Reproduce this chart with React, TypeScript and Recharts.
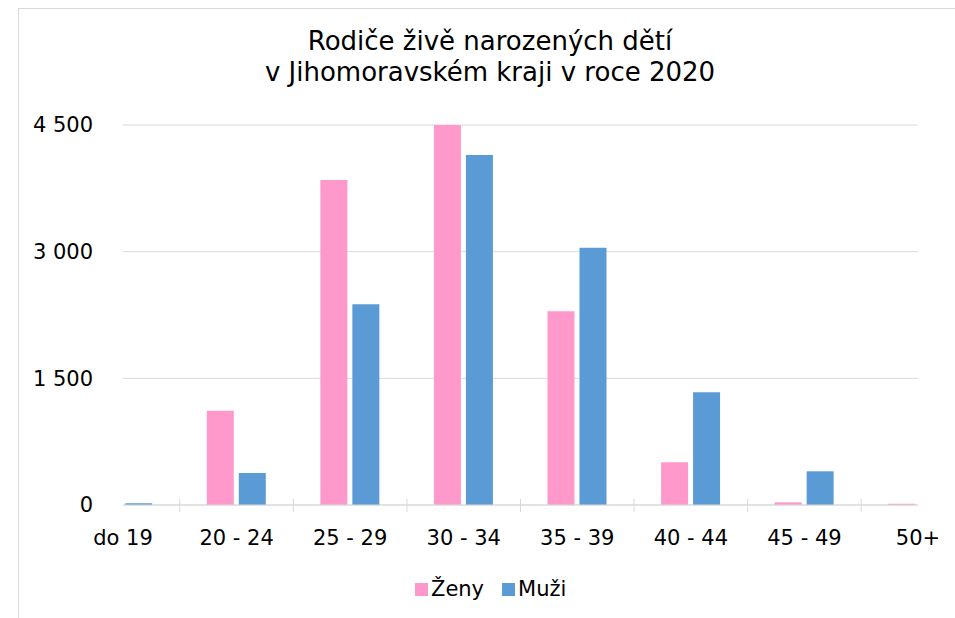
import { BarChart, Bar, XAxis, YAxis, CartesianGrid } from "recharts";

const categories = ["do 19", "20 - 24", "25 - 29", "30 - 34", "35 - 39", "40 - 44", "45 - 49", "50+"];
const zeny = [150, 1117, 3849, 4500, 2293, 505, 32, 15];
const muzi = [20, 379, 2376, 4145, 3047, 1334, 399, 150];
const yTicks = [0, 1500, 3000, 4500];

const FONT = "'DejaVu Sans', Verdana, sans-serif";
const PINK = "#FF99CC";
const BLUE = "#5B9BD5";
const GRID = "#d9d9d9";

const data = categories.map((cat, i) => ({ idx: i, cat, zeny: zeny[i], muzi: muzi[i] }));

// labels sit on whole positions, separator ticks between categories
const xTicks: number[] = [];
for (let i = 0; i < categories.length; i++) {
  xTicks.push(i);
  if (i < categories.length - 1) xTicks.push(i + 0.5);
}

const fmt = (v: number) => String(v).replace(/\B(?=(\d{3})+(?!\d))/g, " ");

function XTick(props: any) {
  const { x, y, payload } = props;
  const v = payload.value as number;
  if (v % 1 !== 0) {
    return <line x1={x} x2={x} y1={y - 6} y2={y + 7} stroke={GRID} strokeWidth={1} />;
  }
  return (
    <text x={x} y={y + 40} textAnchor="middle" fontSize={21} fontFamily={FONT} fill="#000">
      {categories[v]}
    </text>
  );
}

export default function App() {
  return (
    <div
      style={{
        position: "absolute",
        left: 0,
        top: 0,
        width: 955,
        height: 618,
        background: "#fff",
        overflow: "hidden",
        fontFamily: FONT,
      }}
    >
      <div
        style={{
          position: "absolute",
          left: 18,
          top: 8,
          width: 944,
          height: 640,
          border: `1px solid ${GRID}`,
          boxSizing: "border-box",
        }}
      />
      <div
        style={{
          position: "absolute",
          left: 18,
          top: 26,
          width: 944,
          textAlign: "center",
          fontSize: 26,
          lineHeight: "31px",
          color: "#000",
        }}
      >
        Rodiče živě narozených dětí
        <br />v Jihomoravském kraji v roce 2020
      </div>
      <div style={{ position: "absolute", left: 0, top: 0 }}>
        <BarChart
          width={955}
          height={618}
          data={data}
          margin={{ top: 125, right: 37, bottom: 53, left: 63 }}
          barGap={5}
        >
          <CartesianGrid vertical={false} stroke={GRID} />
          <XAxis
            type="number"
            dataKey="idx"
            domain={[0, 7]}
            ticks={xTicks}
            interval={0}
            allowDataOverflow
            height={60}
            tickSize={0}
            tickMargin={0}
            tickLine={false}
            axisLine={{ stroke: GRID }}
            tick={<XTick />}
          />
          <YAxis
            domain={[0, 4500]}
            ticks={yTicks}
            width={60}
            tickSize={0}
            tickMargin={30}
            axisLine={false}
            tickLine={false}
            tickFormatter={fmt}
            tick={{ fontSize: 21, fill: "#000", fontFamily: FONT }}
          />
          <Bar dataKey="zeny" name="Ženy" fill={PINK} barSize={27} isAnimationActive={false} />
          <Bar dataKey="muzi" name="Muži" fill={BLUE} barSize={27} isAnimationActive={false} />
        </BarChart>
      </div>
      <div
        style={{
          position: "absolute",
          left: 415,
          top: 577,
          display: "flex",
          alignItems: "center",
          fontSize: 21,
          lineHeight: "24px",
          color: "#000",
        }}
      >
        <span style={{ width: 13, height: 13, background: PINK, marginRight: 3 }} />
        <span style={{ marginRight: 18 }}>Ženy</span>
        <span style={{ width: 13, height: 13, background: BLUE, marginRight: 3 }} />
        <span>Muži</span>
      </div>
    </div>
  );
}
